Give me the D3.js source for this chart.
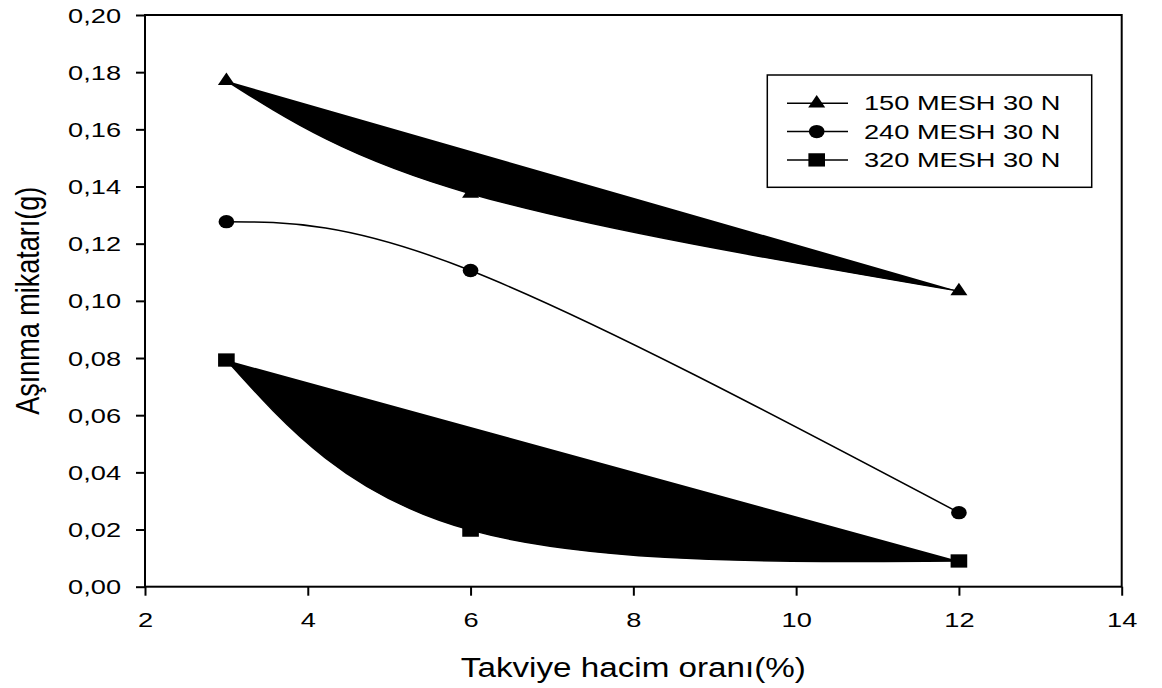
<!DOCTYPE html>
<html>
<head>
<meta charset="utf-8">
<script src="https://cdn.jsdelivr.net/npm/d3@7"></script>
<style>
  body { margin: 0; background: #fff; }
  text { font-family: "Liberation Sans", Arial, sans-serif; fill: #000; }
</style>
</head>
<body>
<svg id="chart" width="1162" height="688"></svg>
<script>
// data
var xValues = [3, 6, 12];
var mesh150 = [0.177, 0.1375, 0.1034];
var mesh240 = [0.1277, 0.1106, 0.0259];
var mesh320 = [0.0793, 0.0198, 0.009];
var seriesNames = ["150 MESH 30 N", "240 MESH 30 N", "320 MESH 30 N"];
var xTicks = [2, 4, 6, 8, 10, 12, 14];
var yTicks = [0, 0.02, 0.04, 0.06, 0.08, 0.10, 0.12, 0.14, 0.16, 0.18, 0.20];

var plotLeft = 145, plotRight = 1121.7, plotTop = 15, plotBottom = 586.7;
var stretch = 1.36;   // the figure text is horizontally stretched

var svg = d3.select("#chart");

var xScale = d3.scaleLinear().domain([2, 14]).range([plotLeft, plotRight]);
var yScale = d3.scaleLinear().domain([0, 0.2]).range([plotBottom, plotTop]);

var comma = d3.formatLocale({decimal: ",", thousands: ".", grouping: [3], currency: ["", ""]});
var yFmt = comma.format(".2f");

// axes
var yAxis = d3.axisLeft(yScale).tickValues(yTicks).tickSize(9).tickFormat(yFmt);
var gy = svg.append("g")
    .attr("transform", "translate(" + plotLeft + ",0)")
    .call(yAxis);
gy.select(".domain").remove();
gy.selectAll(".tick line").attr("stroke", "#000").attr("stroke-width", 2);
gy.selectAll(".tick text")
    .attr("x", 0)
    .attr("dy", "0.35em")
    .attr("transform", "translate(-24,0) scale(" + stretch + ",1)")
    .style("font-size", "20px");

var xAxis = d3.axisBottom(xScale).tickValues(xTicks).tickSize(9);
var gx = svg.append("g")
    .attr("transform", "translate(0," + plotBottom + ")")
    .call(xAxis);
gx.select(".domain").remove();
gx.selectAll(".tick line").attr("stroke", "#000").attr("stroke-width", 2);
gx.selectAll(".tick text")
    .attr("y", 0)
    .attr("dy", 0)
    .attr("transform", "translate(0,40) scale(" + stretch + ",1)")
    .style("font-size", "20px");

// frame
svg.append("rect")
    .attr("x", plotLeft).attr("y", plotTop)
    .attr("width", plotRight - plotLeft).attr("height", plotBottom - plotTop)
    .attr("fill", "none").attr("stroke", "#000").attr("stroke-width", 2);

// titles
svg.append("text")
    .attr("text-anchor", "middle")
    .attr("transform", "translate(" + (plotLeft + plotRight) / 2 + ",677) scale(1.23,1)")
    .style("font-size", "27px")
    .text("Takviye hacim oranı(%)");

svg.append("text")
    .attr("text-anchor", "middle")
    .attr("transform", "translate(39," + (plotTop + plotBottom) / 2 + ") rotate(-90) scale(1,1.2)")
    .style("font-size", "27px")
    .text("Aşınma mikatarı(g)");

// series: spline through the points, the open path is filled for two of them
var line = d3.line()
    .x(function(d) { return xScale(d[0]); })
    .y(function(d) { return yScale(d[1]); })
    .curve(d3.curveNatural);

var series = [
    {name: seriesNames[0], values: mesh150, symbol: d3.symbolTriangle, size: 90, sx: 1.18, fill: "#000"},
    {name: seriesNames[1], values: mesh240, symbol: d3.symbolCircle, size: 141, sx: 1.17, fill: "none"},
    {name: seriesNames[2], values: mesh320, symbol: d3.symbolSquare, size: 177, sx: 1.25, fill: "#000"}
];

series.forEach(function(s) {
    var pts = xValues.map(function(x, i) { return [x, s.values[i]]; });
    svg.append("path")
        .datum(pts)
        .attr("d", line)
        .attr("fill", s.fill)
        .attr("stroke", "#000")
        .attr("stroke-width", 1.5);
});

series.forEach(function(s) {
    var pts = xValues.map(function(x, i) { return [x, s.values[i]]; });
    svg.selectAll(null)
        .data(pts)
        .enter()
        .append("path")
        .attr("d", d3.symbol().type(s.symbol).size(s.size))
        .attr("transform", function(d) {
            return "translate(" + xScale(d[0]) + "," + yScale(d[1]) + ") scale(" + s.sx + ",1)";
        })
        .attr("fill", "#000");
});

// legend
var lg = svg.append("g");
lg.append("rect")
    .attr("x", 767.3).attr("y", 75)
    .attr("width", 324.4).attr("height", 112.3)
    .attr("fill", "#fff").attr("stroke", "#000").attr("stroke-width", 1.5);

series.forEach(function(s, i) {
    var cy = 103.3 + i * 28.3;
    lg.append("line")
        .attr("x1", 787).attr("x2", 848)
        .attr("y1", cy).attr("y2", cy)
        .attr("stroke", "#000").attr("stroke-width", 1.5);
    lg.append("path")
        .attr("d", d3.symbol().type(s.symbol).size(s.size)())
        .attr("transform", "translate(816.7," + cy + ") scale(" + s.sx + ",1)")
        .attr("fill", "#000");
    lg.append("text")
        .attr("dy", "0.35em")
        .attr("transform", "translate(864," + cy + ") scale(" + stretch + ",1)")
        .style("font-size", "20px")
        .text(s.name);
});
</script>
</body>
</html>
